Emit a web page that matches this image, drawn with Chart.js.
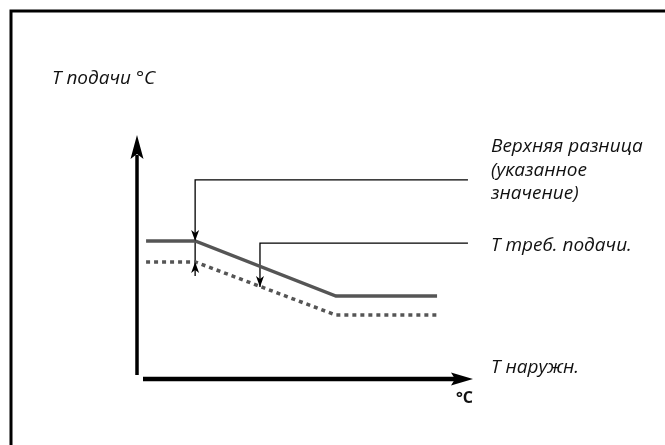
<!doctype html>
<html>
  <head>
    <meta charset="utf-8">
    <title>T подачи</title>
    <script src="https://cdn.jsdelivr.net/npm/chart.js@4"></script>
    <style>
      body { margin: 0; background: #fff; }
    </style>
  </head>
  <body>
    <canvas id="kiht" width="665" height="445"></canvas>
    <script>
      // curve points (outdoor temp -> flow temp), axis units 0..100
      const naruzh = [2.7, 17.3, 59.2, 89.3];
      const podacha = [56.6, 56.6, 34.0, 34.0];
      const podachaNizh = [48.0, 48.0, 26.2, 26.2];

      // leader lines for the notes
      const verhX = [98.5, 17.3, 17.3];
      const verhY = [81.6, 81.6, 42.2];
      const trebX = [98.5, 36.6, 36.6];
      const trebY = [55.7, 55.7, 37.7];

      const yTekst = "T подачи °C";
      const xTekst = "T наружн.";
      const yhik = "°C";
      const verhTekst = ["Верхняя разница", "(указанное", "значение)"];
      const trebTekst = "T треб. подачи.";

      const punktid = (xs, ys) => xs.map((x, i) => ({x: x, y: ys[i]}));

      function nool(ctx, tx, ty, dx, dy, len, pool, sisse) {
        // arrow head with tip at (tx,ty), pointing along (dx,dy)
        const bx = tx - dx * len, by = ty - dy * len;
        const nx = -dy, ny = dx;
        ctx.beginPath();
        ctx.moveTo(tx, ty);
        ctx.lineTo(bx + nx * pool, by + ny * pool);
        ctx.lineTo(tx - dx * (len - sisse), ty - dy * (len - sisse));
        ctx.lineTo(bx - nx * pool, by - ny * pool);
        ctx.closePath();
        ctx.fill();
      }

      const joonistus = {
        id: 'joonistus',
        afterDatasetsDraw(chart) {
          const ctx = chart.ctx;
          const xs = chart.scales.x, ys = chart.scales.y;
          const x0 = xs.getPixelForValue(0), y0 = ys.getPixelForValue(0);
          const xMax = xs.getPixelForValue(100), yMax = ys.getPixelForValue(100);
          ctx.save();
          ctx.fillStyle = '#000';
          ctx.strokeStyle = '#000';

          // frame
          ctx.lineWidth = 3;
          ctx.beginPath();
          ctx.moveTo(11, 445);
          ctx.lineTo(11, 11);
          ctx.lineTo(665, 11);
          ctx.stroke();

          // axes
          ctx.lineWidth = 3.5;
          ctx.beginPath();
          ctx.moveTo(x0, y0 - 4);
          ctx.lineTo(x0, yMax + 20);
          ctx.stroke();
          nool(ctx, x0, yMax, 0, -1, 24, 6.5, 5);
          ctx.lineWidth = 4.5;
          ctx.beginPath();
          ctx.moveTo(x0 + 6, y0);
          ctx.lineTo(xMax - 18, y0);
          ctx.stroke();
          nool(ctx, xMax, y0, 1, 0, 22, 6.5, 4);

          // arrow heads on the leaders
          const px = xs.getPixelForValue(verhX[1]);
          nool(ctx, px, ys.getPixelForValue(podacha[1]), 0, 1, 11, 4, 3);
          nool(ctx, px, ys.getPixelForValue(podachaNizh[1]), 0, -1, 11, 4, 3);
          const tx = xs.getPixelForValue(trebX[2]);
          nool(ctx, tx, ys.getPixelForValue(trebY[2]), 0, 1, 11, 4, 3);

          // texts
          ctx.fillStyle = '#111';
          ctx.textBaseline = 'alphabetic';
          ctx.font = 'italic 19px "Open Sans"';
          ctx.fillText(yTekst, 52, 84);
          ctx.fillText(xTekst, 491, 373);
          verhTekst.forEach((rida, i) => ctx.fillText(rida, 491, 152 + i * 23.5));
          ctx.fillText(trebTekst, 491, 251);
          ctx.font = 'bold 16px "Open Sans"';
          ctx.fillText(yhik, 456, 403);
          ctx.restore();
        }
      };

      const joonis = new Chart(document.getElementById("kiht"), {
        type: 'scatter',
        data: {
          datasets: [
            {
              data: punktid(naruzh, podacha),
              showLine: true, borderColor: '#555', borderWidth: 3.5,
              pointRadius: 0, clip: false
            },
            {
              data: punktid(naruzh, podachaNizh),
              showLine: true, borderColor: '#555', borderWidth: 3.5,
              borderDash: [4, 4], pointRadius: 0, clip: false
            },
            {
              data: punktid(verhX, verhY),
              showLine: true, borderColor: '#000', borderWidth: 1.3,
              pointRadius: 0, clip: false
            },
            {
              data: punktid(trebX, trebY),
              showLine: true, borderColor: '#000', borderWidth: 1.3,
              pointRadius: 0, clip: false
            }
          ]
        },
        options: {
          responsive: false,
          animation: false,
          layout: { padding: { left: 137, right: 192, top: 135, bottom: 66 } },
          plugins: { legend: { display: false }, tooltip: { enabled: false } },
          scales: {
            x: { display: false, min: 0, max: 100 },
            y: { display: false, min: 0, max: 100 }
          }
        },
        plugins: [joonistus]
      });
    </script>
  </body>
</html>
